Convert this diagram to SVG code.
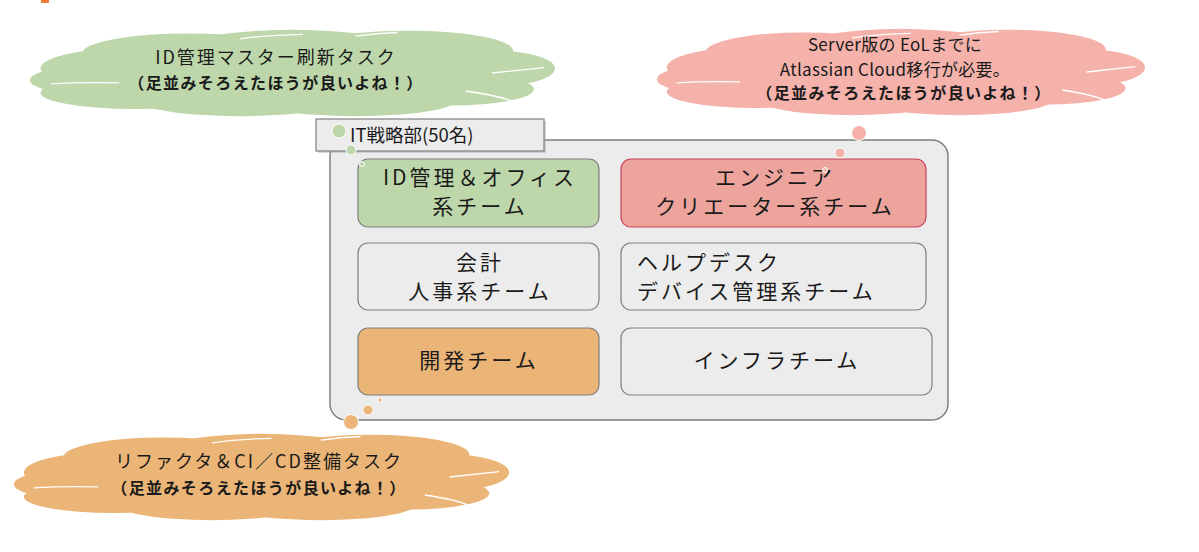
<svg xmlns="http://www.w3.org/2000/svg" xmlns:xlink="http://www.w3.org/1999/xlink" width="1199" height="552" viewBox="0 0 1199 552">
<style>
.t{font-family:"Noto Sans CJK JP","Noto Sans",sans-serif;fill:#1a1a1a}
.c{font-size:18px;text-anchor:middle;letter-spacing:2px}
.p{font-size:17px;text-anchor:middle;letter-spacing:0.3px}
.b{font-size:16px;font-weight:bold;text-anchor:middle;letter-spacing:1.4px}
.m{font-size:21px;text-anchor:middle;letter-spacing:3px}
.l{font-size:21px;letter-spacing:3px}
.box{stroke:#7f7f7f;stroke-width:1.2}
.dot{stroke:#fff;stroke-width:1}
.seam{fill:none;stroke:#fff;stroke-width:1.3}
</style>
<defs>
<g id="cloud">
<ellipse cx="18" cy="45" rx="16" ry="22"/>
<ellipse cx="30" cy="28" rx="20" ry="22"/>
<ellipse cx="50" cy="22" rx="20" ry="20"/>
<ellipse cx="72" cy="25" rx="20" ry="22"/>
<ellipse cx="88" cy="45" rx="12" ry="20"/>
<ellipse cx="10" cy="58" rx="10" ry="15"/>
<ellipse cx="20" cy="72" rx="18" ry="18"/>
<ellipse cx="40" cy="78" rx="20" ry="20"/>
<ellipse cx="62" cy="78" rx="20" ry="20"/>
<ellipse cx="80" cy="68" rx="16" ry="18"/>
<ellipse cx="50" cy="50" rx="40" ry="35"/>
<path class="seam" vector-effect="non-scaling-stroke" d="M4 62 Q10 60 17 61"/>
<path class="seam" vector-effect="non-scaling-stroke" d="M83 70 Q90 76 92 82"/>
<path class="seam" vector-effect="non-scaling-stroke" d="M88 50 Q93 47 98 44"/>
<path class="seam" vector-effect="non-scaling-stroke" d="M40 12 Q45 8 52 7"/>
<path class="seam" vector-effect="non-scaling-stroke" d="M62 9 Q66 6 70 5"/>
</g>
</defs>
<rect x="41" y="0" width="8" height="3" fill="#ed7d31"/>

<g id="cloud-green">
<use xlink:href="#cloud" href="#cloud" fill="#bdd7ab" transform="translate(30,28) scale(5.25,0.9)"/>
<text class="t c" x="276" y="64">ID管理マスター刷新タスク</text>
<text class="t b" x="276" y="89">（足並みそろえたほうが良いよね！）</text>
</g>

<g id="cloud-pink">
<use xlink:href="#cloud" href="#cloud" fill="#f4b2ab" transform="translate(657,27) scale(4.88,0.9)"/>
<text class="t p" x="895" y="51">Server版の EoLまでに</text>
<text class="t p" x="895" y="76">Atlassian Cloud移行が必要。</text>
<text class="t b" x="904" y="99">（足並みそろえたほうが良いよね！）</text>
</g>

<g id="dept">
<rect x="330" y="140" width="618" height="280" rx="16" fill="#ececec" stroke="#7f7f7f" stroke-width="1.5"/>
<rect x="318" y="121" width="228" height="32" fill="#b0b0b0" opacity="0.5"/>
<rect x="316" y="119" width="228" height="32" fill="#ececec" stroke="#7f7f7f" stroke-width="1.2"/>
<text class="t" x="350" y="142" font-size="18.5">IT戦略部(50名)</text>
</g>

<g id="team-id">
<rect class="box" x="358" y="159" width="241" height="68" rx="10" fill="#bdd7ab"/>
<text class="t m" x="480" y="185">ID管理＆オフィス</text>
<text class="t m" x="480" y="214">系チーム</text>
</g>
<g id="team-eng">
<rect x="621" y="159" width="305" height="68" rx="10" fill="#eca49d" stroke="#c9415b" stroke-width="1.2"/>
<text class="t m" x="775" y="185">エンジニア</text>
<text class="t m" x="775" y="214">クリエーター系チーム</text>
</g>
<g id="team-acc">
<rect class="box" x="358" y="243" width="241" height="67" rx="10" fill="#ececec"/>
<text class="t m" x="480" y="270">会計</text>
<text class="t m" x="480" y="299">人事系チーム</text>
</g>
<g id="team-help">
<rect class="box" x="621" y="243" width="305" height="67" rx="10" fill="#ececec"/>
<text class="t l" x="637" y="270">ヘルプデスク</text>
<text class="t l" x="637" y="299">デバイス管理系チーム</text>
</g>
<g id="team-dev">
<rect class="box" x="358" y="328" width="241" height="67" rx="10" fill="#ebb577"/>
<text class="t m" x="479" y="368">開発チーム</text>
</g>
<g id="team-infra">
<rect class="box" x="621" y="328" width="311" height="67" rx="10" fill="#ececec"/>
<text class="t m" x="777" y="368">インフラチーム</text>
</g>

<g id="connectors">
<circle class="dot" cx="339" cy="131" r="7" fill="#bdd7ab"/>
<circle class="dot" cx="351" cy="150" r="5" fill="#bdd7ab"/>
<circle class="dot" cx="362" cy="164" r="2.5" fill="#bdd7ab"/>
<circle class="dot" cx="859" cy="133" r="7.5" fill="#f4b2ab"/>
<circle class="dot" cx="840" cy="153" r="5" fill="#f4b2ab"/>
<circle class="dot" cx="825" cy="170" r="2.5" fill="#f4b2ab"/>
<circle class="dot" cx="351" cy="422" r="7.5" fill="#ebb577"/>
<circle class="dot" cx="368" cy="410" r="5" fill="#ebb577"/>
<circle class="dot" cx="380" cy="400" r="2.2" fill="#ebb577"/>
</g>

<g id="cloud-orange">
<use xlink:href="#cloud" href="#cloud" fill="#ebb577" transform="translate(14,432) scale(4.95,0.9)"/>
<text class="t c" x="259" y="468" letter-spacing="2.8">リファクタ＆CI／CD整備タスク</text>
<text class="t b" x="259" y="494">（足並みそろえたほうが良いよね！）</text>
</g>
</svg>
